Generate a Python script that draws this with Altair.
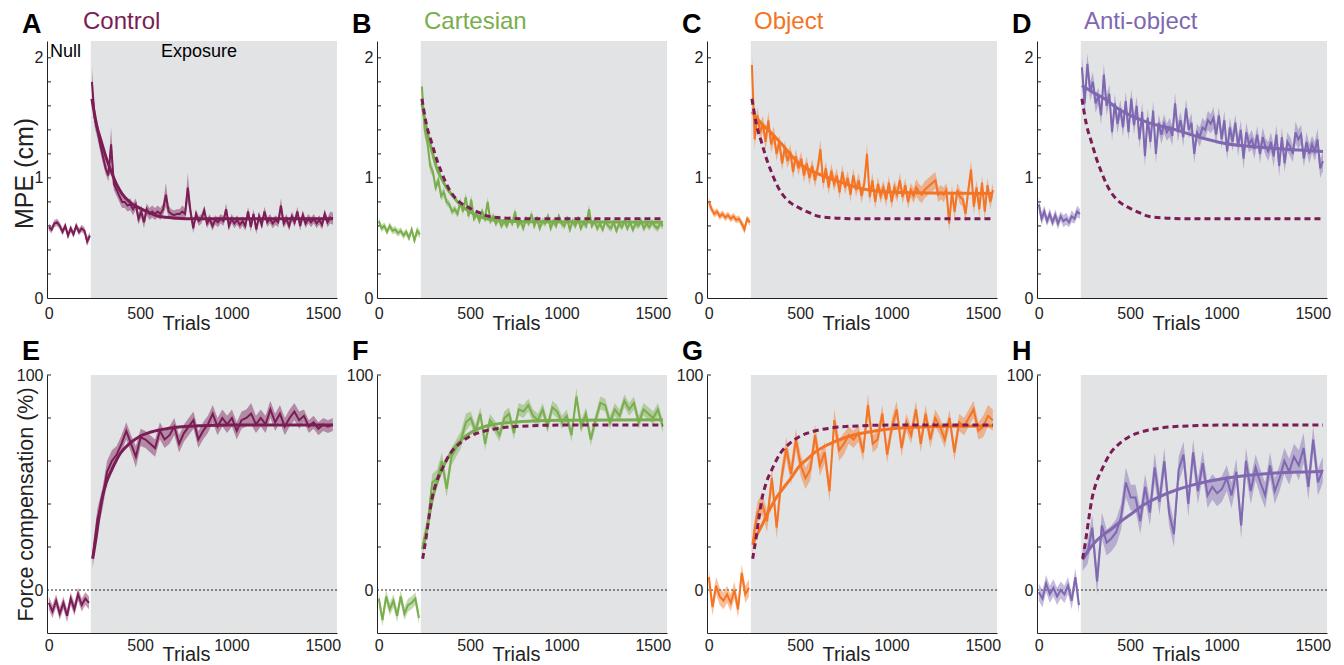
import altair as alt
import pandas as pd

FONT = "Liberation Sans"
GREY = "#E2E3E5"
INK = "#222222"

NAMES = ["Control", "Cartesian", "Object", "Anti-object"]
TOP_LETTERS = ["A", "B", "C", "D"]
BOTTOM_LETTERS = ["E", "F", "G", "H"]
COLORS = ["#7B1C55", "#79AE4C", "#F47424", "#7F68B1"]
NAME_DX = [36, 47, 47, 47]

X_DOMAIN = [-10, 1578]
EXPOSURE_START = 230
X_TICKS = [0, 500, 1000, 1500]
MPE_LABELS = [0, 1, 2]
MPE_MINOR = [0.2, 0.4, 0.6, 0.8, 1.0, 1.2, 1.4, 1.6, 1.8, 2.0]
FC_LABELS = [0, 100]
FC_MINOR = [20, 40, 60, 80, 100]

# ---------------- MPE (top row) ----------------
MPE_NULL_TRIALS = [0, 15, 30, 45, 60, 75, 90, 105, 120, 135, 150, 165, 180, 195, 210, 225]
MPE_EXP_FIRST = 236
MPE_EXP_STEP = 15

MPE_NULL = [
    [0.59, 0.57, 0.62, 0.63, 0.60, 0.55, 0.60, 0.52, 0.58, 0.53, 0.60, 0.55, 0.58, 0.56, 0.47, 0.52],
    [0.64, 0.58, 0.60, 0.55, 0.60, 0.56, 0.57, 0.54, 0.56, 0.52, 0.55, 0.50, 0.57, 0.48, 0.56, 0.53],
    [0.80, 0.74, 0.70, 0.72, 0.68, 0.70, 0.67, 0.69, 0.66, 0.68, 0.65, 0.66, 0.62, 0.57, 0.66, 0.63],
    [0.78, 0.66, 0.72, 0.64, 0.70, 0.63, 0.69, 0.62, 0.68, 0.64, 0.66, 0.63, 0.68, 0.66, 0.72, 0.70],
]
MPE_NULL_SE = [
    [0.03, 0.03, 0.03, 0.03, 0.03, 0.03, 0.03, 0.03, 0.03, 0.03, 0.03, 0.03, 0.03, 0.03, 0.04, 0.03],
    [0.03, 0.03, 0.03, 0.03, 0.03, 0.03, 0.03, 0.03, 0.03, 0.03, 0.03, 0.03, 0.03, 0.03, 0.04, 0.03],
    [0.04, 0.03, 0.03, 0.03, 0.03, 0.03, 0.03, 0.03, 0.03, 0.03, 0.03, 0.03, 0.03, 0.04, 0.03, 0.03],
    [0.06, 0.05, 0.05, 0.04, 0.05, 0.04, 0.05, 0.05, 0.04, 0.05, 0.05, 0.04, 0.05, 0.04, 0.05, 0.04],
]
MPE_EXP = [
    [1.80, 1.50, 1.40, 1.28, 1.18, 1.08, 1.02, 1.28, 0.95, 0.90,
     0.85, 0.80, 0.80, 0.77, 0.78, 0.74, 0.78, 0.66, 0.72, 0.63,
     0.74, 0.70, 0.72, 0.70, 0.72, 0.70, 0.74, 0.86, 0.72, 0.70,
     0.69, 0.70, 0.70, 0.72, 0.70, 0.92, 0.72, 0.58, 0.70, 0.64,
     0.66, 0.73, 0.62, 0.66, 0.60, 0.65, 0.63, 0.66, 0.64, 0.74,
     0.60, 0.66, 0.62, 0.65, 0.61, 0.64, 0.60, 0.72, 0.59, 0.70,
     0.57, 0.68, 0.61, 0.72, 0.63, 0.66, 0.62, 0.65, 0.63, 0.77,
     0.62, 0.66, 0.60, 0.68, 0.63, 0.72, 0.60, 0.69, 0.62, 0.66,
     0.63, 0.66, 0.62, 0.65, 0.61, 0.70, 0.63, 0.67, 0.66],
    [1.76, 1.40, 1.30, 1.10, 1.05, 0.92, 0.98, 0.85, 0.88, 0.80,
     0.78, 0.72, 0.74, 0.70, 0.80, 0.72, 0.84, 0.68, 0.82, 0.66,
     0.70, 0.64, 0.72, 0.66, 0.80, 0.64, 0.68, 0.62, 0.66, 0.60,
     0.64, 0.60, 0.66, 0.62, 0.72, 0.60, 0.64, 0.58, 0.66, 0.62,
     0.70, 0.60, 0.66, 0.58, 0.64, 0.62, 0.68, 0.58, 0.64, 0.60,
     0.68, 0.62, 0.60, 0.66, 0.57, 0.64, 0.60, 0.66, 0.58, 0.63,
     0.60, 0.74, 0.60, 0.64, 0.58, 0.62, 0.57, 0.64, 0.60, 0.58,
     0.63, 0.56, 0.62, 0.59, 0.64, 0.58, 0.63, 0.57, 0.62, 0.60,
     0.64, 0.58, 0.62, 0.59, 0.63, 0.60, 0.58, 0.62, 0.60],
    [1.94, 1.32, 1.52, 1.38, 1.45, 1.30, 1.48, 1.28, 1.36, 1.20,
     1.30, 1.12, 1.25, 1.14, 1.22, 1.05, 1.18, 1.08, 1.16, 1.02,
     1.12, 1.00, 1.10, 0.98, 1.08, 1.24, 0.96, 1.08, 0.92, 1.06,
     0.95, 1.02, 0.88, 1.05, 0.92, 1.00, 0.86, 1.02, 0.90, 0.98,
     0.85, 0.95, 1.20, 0.84, 0.98, 0.80, 0.95, 0.85, 0.92, 0.82,
     0.96, 0.80, 0.92, 0.86, 0.98, 0.84, 0.94, 0.80, 0.90, 0.85,
     0.92, 0.88, 0.86, 0.90, 0.92, 0.94, 0.96, 0.98, 0.86, 0.88,
     0.86, 0.90, 0.62, 0.88, 0.72, 0.90, 0.84, 0.82, 0.70, 0.90,
     1.07, 0.76, 0.92, 0.74, 0.96, 0.72, 0.94, 0.80, 0.90],
    [1.92, 1.62, 1.95, 1.72, 1.80, 1.62, 1.68, 1.52, 1.86, 1.60,
     1.70, 1.38, 1.62, 1.45, 1.58, 1.42, 1.64, 1.38, 1.66, 1.44,
     1.60, 1.32, 1.55, 1.18, 1.50, 1.30, 1.56, 1.20, 1.46, 1.36,
     1.45, 1.38, 1.42, 1.35, 1.62, 1.38, 1.48, 1.34, 1.58, 1.40,
     1.46, 1.20, 1.38, 1.34, 1.42, 1.40, 1.48, 1.45, 1.50, 1.36,
     1.52, 1.32, 1.48, 1.22, 1.42, 1.30, 1.46, 1.26, 1.40, 1.16,
     1.38, 1.28, 1.32, 1.24, 1.36, 1.20, 1.34, 1.26, 1.22, 1.30,
     1.18, 1.36, 1.10, 1.34, 1.12, 1.30, 1.26, 1.20, 1.38, 1.32,
     1.36, 1.16, 1.30, 1.20, 1.28, 1.22, 1.32, 1.08, 1.14],
]
MPE_EXP_SE = [
    [0.12, 0.08, 0.07, 0.06, 0.06, 0.05, 0.05, 0.14, 0.05, 0.05,
     0.05, 0.05, 0.05, 0.05, 0.05, 0.05, 0.05, 0.05, 0.05, 0.05,
     0.05, 0.05, 0.05, 0.05, 0.05, 0.05, 0.05, 0.10, 0.05, 0.04,
     0.04, 0.04, 0.04, 0.05, 0.05, 0.12, 0.05, 0.04, 0.04, 0.04,
     0.04, 0.04, 0.04, 0.04, 0.04, 0.04, 0.04, 0.04, 0.04, 0.05,
     0.04, 0.04, 0.04, 0.04, 0.04, 0.04, 0.04, 0.04, 0.04, 0.04,
     0.04, 0.04, 0.04, 0.04, 0.04, 0.04, 0.04, 0.04, 0.04, 0.06,
     0.04, 0.04, 0.04, 0.04, 0.04, 0.04, 0.04, 0.04, 0.04, 0.04,
     0.04, 0.04, 0.04, 0.04, 0.04, 0.04, 0.04, 0.05, 0.05],
    [0.06, 0.06, 0.05, 0.05, 0.04, 0.04, 0.04, 0.04, 0.04, 0.03,
     0.03, 0.03, 0.03, 0.03, 0.04, 0.03, 0.04, 0.03, 0.04, 0.03,
     0.03, 0.03, 0.03, 0.03, 0.04, 0.03, 0.03, 0.03, 0.03, 0.03,
     0.03, 0.03, 0.03, 0.03, 0.03, 0.03, 0.03, 0.03, 0.03, 0.03,
     0.03, 0.03, 0.03, 0.03, 0.03, 0.03, 0.03, 0.03, 0.03, 0.03,
     0.03, 0.03, 0.03, 0.03, 0.03, 0.03, 0.03, 0.03, 0.03, 0.03,
     0.03, 0.04, 0.03, 0.03, 0.03, 0.03, 0.03, 0.03, 0.03, 0.03,
     0.03, 0.03, 0.03, 0.03, 0.03, 0.03, 0.03, 0.03, 0.03, 0.03,
     0.03, 0.03, 0.03, 0.03, 0.03, 0.03, 0.03, 0.03, 0.03],
    [0.10, 0.08, 0.07, 0.07, 0.07, 0.07, 0.07, 0.07, 0.07, 0.06,
     0.06, 0.06, 0.06, 0.06, 0.06, 0.06, 0.06, 0.06, 0.06, 0.06,
     0.06, 0.06, 0.06, 0.06, 0.06, 0.08, 0.06, 0.06, 0.06, 0.06,
     0.06, 0.06, 0.06, 0.06, 0.06, 0.06, 0.06, 0.06, 0.06, 0.06,
     0.06, 0.06, 0.08, 0.06, 0.06, 0.06, 0.06, 0.06, 0.06, 0.06,
     0.06, 0.06, 0.06, 0.06, 0.06, 0.06, 0.06, 0.06, 0.06, 0.06,
     0.07, 0.07, 0.07, 0.07, 0.07, 0.07, 0.07, 0.07, 0.06, 0.06,
     0.06, 0.06, 0.07, 0.06, 0.07, 0.06, 0.06, 0.06, 0.07, 0.06,
     0.08, 0.07, 0.06, 0.07, 0.06, 0.07, 0.06, 0.06, 0.06],
    [0.10, 0.09, 0.09, 0.08, 0.08, 0.08, 0.07, 0.08, 0.09, 0.08,
     0.08, 0.07, 0.08, 0.08, 0.07, 0.08, 0.08, 0.07, 0.08, 0.08,
     0.08, 0.07, 0.08, 0.09, 0.08, 0.07, 0.08, 0.08, 0.07, 0.08,
     0.08, 0.07, 0.08, 0.08, 0.09, 0.08, 0.07, 0.08, 0.08, 0.07,
     0.08, 0.08, 0.07, 0.08, 0.08, 0.07, 0.08, 0.08, 0.09, 0.08,
     0.07, 0.08, 0.08, 0.07, 0.08, 0.08, 0.07, 0.08, 0.08, 0.09,
     0.08, 0.07, 0.08, 0.08, 0.07, 0.08, 0.08, 0.07, 0.08, 0.08,
     0.09, 0.08, 0.09, 0.08, 0.07, 0.08, 0.08, 0.07, 0.09, 0.08,
     0.08, 0.07, 0.08, 0.08, 0.07, 0.08, 0.09, 0.08, 0.08],
]
MPE_FIT_X = [
    [236, 260, 290, 320, 345, 370, 400, 450, 495, 550, 601, 700, 800, 1556],
    [236, 260, 290, 320, 345, 370, 400, 450, 495, 550, 601, 700, 800, 1556],
    [236, 290, 345, 400, 450, 495, 560, 656, 750, 838, 1020, 1200, 1556],
    [236, 300, 368, 430, 495, 600, 751, 900, 1006, 1262, 1556],
]
MPE_FIT = [
    [1.66, 1.45, 1.29, 1.14, 1.04, 0.95, 0.87, 0.79, 0.75, 0.71, 0.68, 0.665, 0.66, 0.66],
    [1.62, 1.42, 1.23, 1.07, 0.99, 0.92, 0.86, 0.77, 0.72, 0.68, 0.655, 0.64, 0.635, 0.63],
    [1.55, 1.45, 1.37, 1.28, 1.19, 1.12, 1.06, 1.00, 0.95, 0.91, 0.88, 0.875, 0.87],
    [1.77, 1.71, 1.65, 1.58, 1.525, 1.46, 1.40, 1.33, 1.29, 1.25, 1.22],
]

# ---------------- Force compensation (bottom row) ----------------
FC_NULL_TRIALS = [0, 20, 40, 60, 80, 100, 120, 140, 160, 180, 200, 220]
FC_EXP_FIRST = 240
FC_EXP_STEP = 26.3

FC_NULL = [
    [-6, -10, -5, -11, -6, -12, -4, -9, -2, -7, -4, -6],
    [-4, -14, -3, -9, -5, -12, -3, -11, -7, -6, -4, -13],
    [6, -8, 2, -3, -5, -2, -6, 0, -9, 8, -2, 1],
    [-1, -4, 3, -2, 1, -3, 0, -2, 2, -5, 6, -7],
]
FC_NULL_SE = [
    [3, 3, 3, 3, 3, 3, 3, 3, 3, 3, 3, 3],
    [3, 3, 3, 3, 3, 3, 3, 3, 3, 3, 3, 3],
    [4, 4, 4, 4, 4, 4, 4, 4, 4, 4, 4, 4],
    [4, 4, 4, 4, 4, 4, 4, 4, 4, 4, 4, 4],
]
FC_EXP = [
    [15, 33, 42, 55, 60, 63, 68, 74, 68, 62,
     71, 70, 68, 66, 74, 70, 72, 76, 68, 73,
     76, 79, 70, 74, 77, 82, 76, 80, 77, 80,
     74, 79, 80, 82, 77, 80, 77, 84, 78, 82,
     76, 80, 83, 79, 81, 76, 78, 75, 77, 76,
     77],
    [20, 30, 50, 52, 60, 47, 62, 66, 70, 78,
     80, 74, 82, 68, 79, 76, 72, 80, 82, 73,
     84, 83, 86, 81, 79, 84, 76, 85, 83, 78,
     81, 72, 90, 76, 82, 70, 79, 87, 86, 78,
     84, 81, 88, 84, 87, 78, 84, 82, 80, 84,
     76],
    [22, 36, 40, 32, 52, 29, 52, 66, 54, 70,
     58, 52, 56, 72, 58, 64, 46, 79, 65, 68,
     72, 70, 73, 64, 86, 68, 70, 82, 63, 76,
     84, 66, 78, 72, 84, 68, 82, 70, 80, 76,
     70, 80, 64, 78, 76, 80, 84, 74, 76, 81,
     79],
    [14, 17, 29, 4, 30, 22, 24, 27, 34, 50,
     43, 43, 32, 48, 36, 57, 41, 60, 36, 26,
     56, 63, 40, 64, 46, 59, 44, 48, 45, 47,
     52, 44, 55, 30, 60, 46, 57, 50, 44, 58,
     46, 52, 60, 55, 62, 58, 66, 48, 70, 50,
     56],
]
FC_EXP_SE = [
    [5, 5, 5, 5, 5, 4, 4, 4, 4, 5,
     4, 4, 4, 4, 4, 4, 4, 4, 4, 4,
     4, 4, 4, 4, 4, 4, 4, 4, 4, 4,
     4, 4, 4, 5, 4, 4, 4, 4, 4, 4,
     4, 4, 4, 4, 3, 3, 3, 3, 3, 3,
     3],
    [4, 4, 4, 4, 4, 4, 4, 4, 4, 4,
     3, 3, 3, 3, 3, 3, 3, 3, 3, 3,
     3, 3, 3, 3, 3, 3, 3, 3, 3, 3,
     3, 3, 4, 3, 3, 3, 3, 3, 3, 3,
     3, 3, 3, 3, 3, 3, 3, 3, 3, 3,
     3],
    [5, 5, 5, 5, 5, 5, 5, 5, 5, 5,
     5, 5, 5, 5, 5, 5, 5, 5, 5, 5,
     4, 4, 4, 4, 5, 4, 4, 4, 4, 4,
     4, 4, 4, 4, 4, 4, 4, 4, 4, 4,
     4, 4, 4, 4, 4, 4, 4, 4, 5, 5,
     5],
    [5, 5, 6, 6, 6, 6, 6, 6, 6, 7,
     6, 6, 6, 6, 6, 7, 6, 6, 6, 6,
     6, 6, 6, 6, 6, 6, 6, 6, 6, 6,
     6, 6, 6, 6, 6, 6, 6, 6, 6, 6,
     6, 6, 6, 6, 6, 7, 7, 6, 6, 6,
     6],
]
FC_FIT_X = [
    [240, 260, 275, 290, 315, 345, 392, 440, 495, 560, 656, 838, 1000, 1556],
    [240, 260, 275, 290, 315, 345, 375, 412, 460, 520, 600, 700, 838, 1000, 1556],
    [240, 260, 290, 330, 370, 400, 450, 490, 540, 580, 650, 760, 900, 1030, 1200, 1400, 1556],
    [240, 260, 300, 350, 392, 450, 500, 572, 650, 752, 850, 1023, 1150, 1294, 1450, 1556],
]
FC_FIT = [
    [14.5, 25, 34, 42, 50, 56, 63.6, 68, 71.3, 73.5, 75.2, 76.4, 76.7, 76.8],
    [19, 27, 34, 41, 49, 56, 61, 66, 70.5, 74, 76.5, 77.8, 78.6, 79, 79.2],
    [21, 25, 30, 37, 43, 46.5, 52, 57, 61, 64, 67.5, 71.3, 73.8, 75.2, 75.9, 76.2, 76.4],
    [14.5, 17, 21.5, 25.5, 28, 32, 35, 39.5, 43, 46.5, 49, 52, 53.4, 54.4, 54.9, 55.1],
]


def panel(row, i):
    top = row == 0
    color = COLORS[i]
    if top:
        null_t, null_v, null_se = MPE_NULL_TRIALS, MPE_NULL[i], MPE_NULL_SE[i]
        exp_v, exp_se = MPE_EXP[i], MPE_EXP_SE[i]
        exp_t = [MPE_EXP_FIRST + MPE_EXP_STEP * k for k in range(len(exp_v))]
        fx, fy = MPE_FIT_X[i], MPE_FIT[i]
        cx, cy = MPE_FIT_X[0], MPE_FIT[0]
        ydom, h = [0, 2.14], 257
        ylabels, minor = MPE_LABELS, MPE_MINOR
        ytitle = "MPE (cm)" if i == 0 else ""
        ytitle_y, ytitle_fs = 132, 25
        lab_pad, xt_y = 7, 31
        letter, letter_y = TOP_LETTERS[i], -8.5
    else:
        null_t, null_v, null_se = FC_NULL_TRIALS, FC_NULL[i], FC_NULL_SE[i]
        exp_v, exp_se = FC_EXP[i], FC_EXP_SE[i]
        exp_t = [FC_EXP_FIRST + FC_EXP_STEP * k for k in range(len(exp_v))]
        fx, fy = FC_FIT_X[i], FC_FIT[i]
        cx, cy = FC_FIT_X[0], FC_FIT[0]
        ydom, h = [-20, 100], 258
        ylabels, minor = FC_LABELS, FC_MINOR
        ytitle = "Force compensation (%)" if i == 0 else ""
        ytitle_y, ytitle_fs = 129, 21.5
        lab_pad, xt_y = 4, 27
        letter, letter_y = BOTTOM_LETTERS[i], -15.5

    rows = []
    for t, v, s in zip(null_t, null_v, null_se):
        rows.append(dict(trial=t, value=v, lo=v - s, hi=v + s, seg="null"))
    for t, v, s in zip(exp_t, exp_v, exp_se):
        rows.append(dict(trial=t, value=v, lo=v - s, hi=v + s, seg="exposure"))
    df = pd.DataFrame(rows)

    xs = alt.Scale(domain=X_DOMAIN, nice=False, zero=False)
    ys = alt.Scale(domain=ydom, nice=False, zero=False)

    xaxis = alt.Axis(values=X_TICKS, format="d", title="Trials", titleFontSize=20,
                     titleFontWeight="normal", titleX=139, titleY=xt_y, titleAlign="center",
                     titleBaseline="alphabetic", titleColor=INK, labelFontSize=16,
                     labelPadding=lab_pad, labelColor=INK, labelFlush=False, tickSize=0,
                     domainColor=INK, domainWidth=1, grid=False)
    yaxis = alt.Axis(values=ylabels, format="d", title=ytitle, titleFontSize=ytitle_fs,
                     titleFontWeight="normal", titleX=-15, titleY=ytitle_y, titleAlign="center",
                     titleBaseline="alphabetic", titleAngle=270, titleColor=INK,
                     labelFontSize=16, labelPadding=4, labelColor=INK, labelFlush=False,
                     tickSize=0, domainColor=INK, domainWidth=1, grid=False)

    def X(f):
        return alt.X(f, scale=xs, axis=xaxis, title="Trials")

    def Y(f):
        return alt.Y(f, scale=ys, axis=yaxis, title=ytitle)

    shade = alt.Chart(pd.DataFrame({"s": [EXPOSURE_START], "e": [X_DOMAIN[1]]})).mark_rect(
        color=GREY).encode(x=X("s:Q"), x2="e:Q")

    ticks = alt.Chart(pd.DataFrame({"t": minor})).mark_rule(color=INK, strokeWidth=1).encode(
        y=Y("t:Q"), x=alt.value(0), x2=alt.value(4))

    band = alt.Chart(df).mark_area(color=color, opacity=0.45).encode(
        x=X("trial:Q"), y=Y("lo:Q"), y2="hi:Q", detail="seg:N")
    line = alt.Chart(df).mark_line(color=color, strokeWidth=2).encode(
        x=X("trial:Q"), y=Y("value:Q"), detail="seg:N")
    fit = alt.Chart(pd.DataFrame({"fx": fx, "fy": fy})).mark_line(
        color=color, strokeWidth=3, interpolate="monotone").encode(x=X("fx:Q"), y=Y("fy:Q"))

    layers = [shade]
    if not top:
        zero = alt.Chart(pd.DataFrame({"z": [0]})).mark_rule(
            color=INK, strokeWidth=1, strokeDash=[2, 2]).encode(y=Y("z:Q"))
        layers.append(zero)
    layers += [ticks, band, line, fit]
    if i > 0:
        ctrl = alt.Chart(pd.DataFrame({"cx": cx, "cy": cy})).mark_line(
            color=COLORS[0], strokeWidth=3, strokeDash=[6, 4], interpolate="monotone").encode(
            x=X("cx:Q"), y=Y("cy:Q"))
        layers.append(ctrl)

    lab = alt.Chart(pd.DataFrame({"t": [letter]})).mark_text(
        font=FONT, fontSize=27, fontWeight="bold", color="black", align="left",
        baseline="alphabetic").encode(text="t:N", x=alt.value(-25), y=alt.value(letter_y))
    layers.append(lab)
    if top:
        nm = alt.Chart(pd.DataFrame({"t": [NAMES[i]]})).mark_text(
            font=FONT, fontSize=24, color=color, align="left", baseline="alphabetic").encode(
            text="t:N", x=alt.value(NAME_DX[i]), y=alt.value(-12))
        layers.append(nm)
    if top and i == 0:
        nul = alt.Chart(pd.DataFrame({"t": ["Null"]})).mark_text(
            font=FONT, fontSize=18, color="black", align="left", baseline="alphabetic").encode(
            text="t:N", x=alt.value(3), y=alt.value(16))
        exq = alt.Chart(pd.DataFrame({"t": ["Exposure"]})).mark_text(
            font=FONT, fontSize=18, color="black", align="left", baseline="alphabetic").encode(
            text="t:N", x=alt.value(114), y=alt.value(16))
        layers += [nul, exq]

    return alt.layer(*layers).properties(width=290, height=h)


charts = [panel(r, i) for r in range(2) for i in range(4)]
chart = alt.concat(*charts, columns=4, spacing={"row": 77, "column": 40}, bounds="flush").properties(
    padding={"left": 3, "top": 2, "right": 5, "bottom": 0}
).configure(font=FONT).configure_view(stroke=None)

chart.save("out.html", embed_options={"renderer": "svg", "actions": False})
